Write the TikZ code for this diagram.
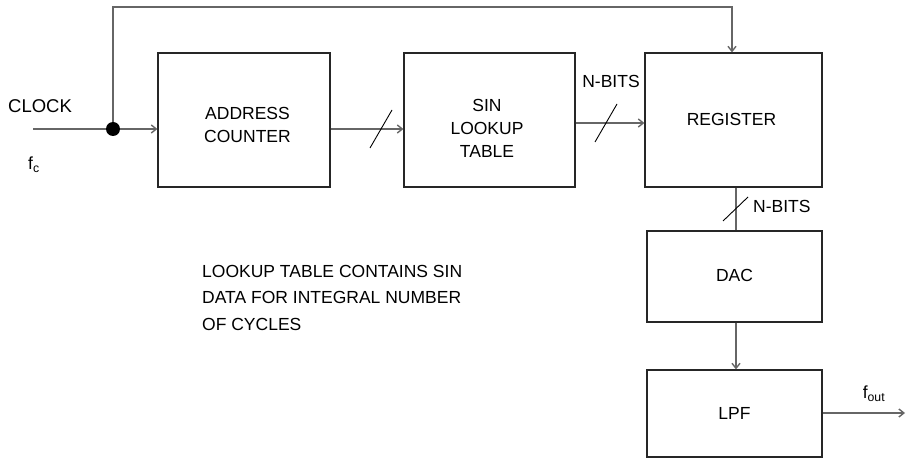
\documentclass[tikz,border=0pt]{standalone}
\usepackage{fontspec}
\setmainfont{Liberation Sans}
\usetikzlibrary{arrows.meta,calc}
\begin{document}
\begin{tikzpicture}[x=1pt,y=-1pt,
  box/.style={draw=black!85,line width=1.2pt,inner sep=0pt,minimum height=134pt},
  txt/.style={inner sep=0pt,align=center,font=\fontsize{17.5}{23.3}\selectfont},
  conn/.style={draw=black!60,line width=1.4pt},
  arr/.style={conn,-{Straight Barb[length=5pt,width=8pt]}},
  slashline/.style={draw=black,line width=0.9pt}]
\useasboundingbox (0,0) rectangle (907,462);
% boxes
\node[box,minimum width=172pt] (ac) at (244,120) {};
\node[box,minimum width=171pt] (sin) at (489.5,120) {};
\node[box,minimum width=177pt] (reg) at (733.5,120) {};
\node[box,minimum width=175pt,minimum height=91pt] (dac) at (734.5,276.5) {};
\node[box,minimum width=175pt,minimum height=87pt] (lpf) at (734.5,413.5) {};
% box texts
\node[txt] (ac-t) at (247.5,125) {ADDRESS\\COUNTER};
\node[txt] (sin-t) at (487,128.3) {SIN\\LOOKUP\\TABLE};
\node[txt] (reg-t) at (731.5,119.7) {REGISTER};
\node[txt] (dac-t) at (734.5,275) {DAC};
\node[txt] (lpf-t) at (734.5,413.5) {LPF};
% labels
\node[txt,anchor=west,font=\fontsize{18.5}{22}\selectfont] (clock) at (8,106.5) {CLOCK};
\node[txt,anchor=west] (fc) at (28,165) {f\textsubscript{c}};
\node[txt] (fout) at (874,394) {f\textsubscript{out}};
\node[txt] (nb1) at (611,81.5) {N-BITS};
\node[txt,anchor=west] (nb2) at (753,206.5) {N-BITS};
\node[txt,anchor=north west,align=left,font=\fontsize{17.5}{26.3}\selectfont] (note) at (202,265)
  {LOOKUP TABLE CONTAINS SIN\\DATA FOR INTEGRAL NUMBER\\OF CYCLES};
% clock line and dot
\coordinate (clk) at (33,129);
\node[circle,fill=black,minimum size=14pt,inner sep=0pt] (dot) at (113,129) {};
\coordinate (tl) at (113,7);
\coordinate (tr) at (732,7);
\draw[conn] (clk) -- (dot);
\draw[arr] (dot) -- (ac.west |- dot);
\draw[arr] (dot) -- (tl) -- (tr) -- (reg.north -| tr);
% address counter -> sin
\coordinate (a1) at (381,129);
\draw[arr] (ac.east |- a1) -- (sin.west |- a1);
\draw[slashline] ($(a1)+(-11,19)$) -- ($(a1)+(11,-19)$);
% sin -> register
\coordinate (a2) at (606,123);
\draw[arr] (sin.east |- a2) -- (reg.west |- a2);
\draw[slashline] ($(a2)+(-11,19)$) -- ($(a2)+(11,-19)$);
% register -> dac
\coordinate (a3) at (736,209);
\draw[conn] (reg.south -| a3) -- (dac.north -| a3);
\draw[slashline] ($(a3)+(-13,12)$) -- ($(a3)+(12,-12)$);
% dac -> lpf
\coordinate (a4) at (736,345);
\draw[arr] (dac.south -| a4) -- (lpf.north -| a4);
% lpf -> out
\coordinate (out) at (905,413);
\draw[arr] (lpf.east |- out) -- (out);
\end{tikzpicture}
\end{document}
